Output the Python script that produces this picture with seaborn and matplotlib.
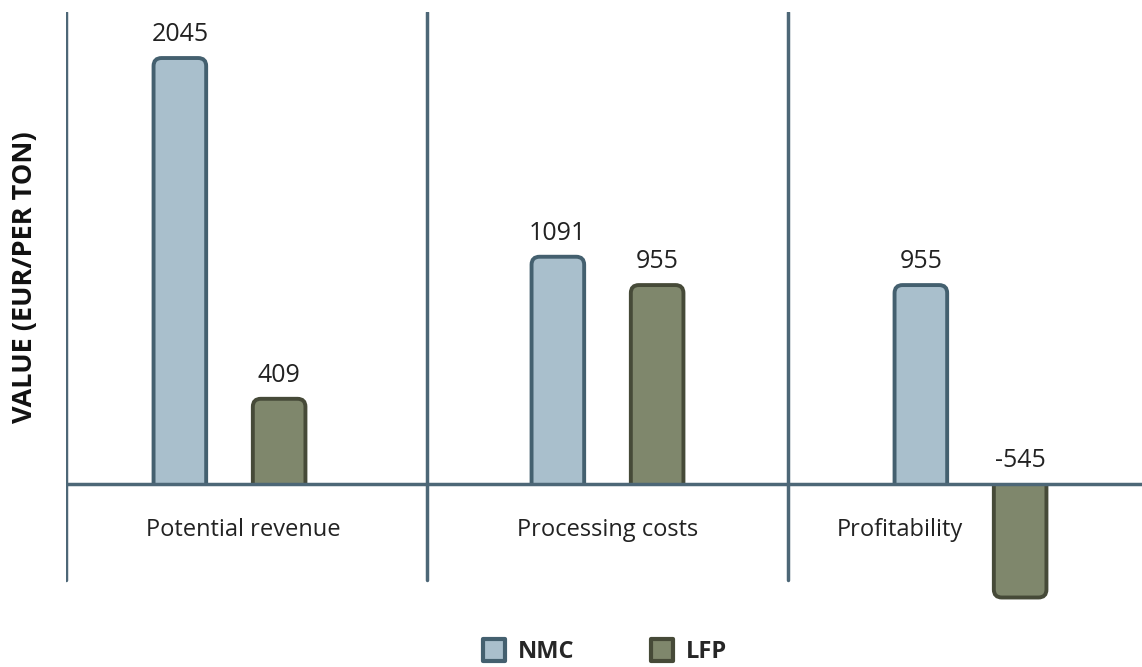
import matplotlib
matplotlib.use("Agg")
import matplotlib.pyplot as plt
import seaborn as sns
import pandas as pd
from matplotlib.patches import FancyBboxPatch, Rectangle
from matplotlib.lines import Line2D
from matplotlib.markers import MarkerStyle

categories = ["Potential revenue", "Processing costs", "Profitability"]
series = ["NMC", "LFP"]
nmc_values = [2045, 1091, 955]
lfp_values = [409, 955, -545]
y_label = "VALUE (EUR/PER TON)"

fill_colors = {"NMC": "#A9BFCC", "LFP": "#7F876C"}
edge_colors = {"NMC": "#44606F", "LFP": "#464A38"}
axis_color = "#4D6777"
FONT = ["Open Sans", "DejaVu Sans"]

df = pd.DataFrame({
    "category": categories * 2,
    "series": ["NMC"] * 3 + ["LFP"] * 3,
    "value": nmc_values + lfp_values,
})

sns.set_style("white")
plt.rcParams["font.family"] = FONT

W, H = 1142, 667
fig = plt.figure(figsize=(W / 100, H / 100), dpi=100)
ax = fig.add_axes([66 / W, (H - 610) / H, 1083 / W, 598 / H])

sns.barplot(data=df, x="category", y="value", hue="series", order=categories,
            hue_order=series, palette=fill_colors, width=0.55, gap=0.47,
            legend=False, ax=ax, errorbar=None)

ax.set_xlim(-0.5, 2.5)
ax.set_ylim(-605, 2266)

px_per_x = 1083 / 3.0
px_per_y = 598 / (2266 + 605)
radius_px = 8
rx = radius_px / px_per_x
aspect = (1 / px_per_y) / (1 / px_per_x)
group_shift_px = [-17, 0, 2]

bars = list(ax.patches)
for i, bar in enumerate(bars):
    s = series[i // len(categories)]
    g = i % len(categories)
    x0, w, h = bar.get_x(), bar.get_width(), bar.get_height()
    x0 += group_shift_px[g] / px_per_x
    bar.set_visible(False)
    ext = radius_px * 2 / px_per_y
    if h >= 0:
        y0, hh = -ext, h + ext
        clip = Rectangle((x0 - 1, 0), w + 2, 1e5, transform=ax.transData)
    else:
        y0, hh = h, -h + ext
        clip = Rectangle((x0 - 1, -1e5), w + 2, 1e5, transform=ax.transData)
    p = FancyBboxPatch((x0, y0), w, hh,
                       boxstyle=f"round,pad=0,rounding_size={rx}",
                       mutation_aspect=aspect,
                       facecolor=fill_colors[s], edgecolor=edge_colors[s],
                       linewidth=2.8, zorder=3)
    ax.add_patch(p)
    p.set_clip_path(clip)
    ax.annotate(f"{h:.0f}", (x0 + w / 2, max(h, 0)), xytext=(0, 8),
                textcoords="offset points", ha="center", va="bottom",
                fontsize=18, color="#222222", zorder=5)

# separators and zero line
ax.axhline(0, color=axis_color, lw=2.5, zorder=4)
bot_frac = (610 - 580) / 598
for xs in [-0.5, 0.5, 1.5]:
    ax.axvline(xs, ymin=bot_frac, ymax=1.0, color=axis_color, lw=2.5,
               solid_capstyle="round", zorder=4)

for sp in ax.spines.values():
    sp.set_visible(False)
ax.set_xticks([])
ax.set_yticks([])
ax.set_xlabel("")
ax.set_ylabel("")

label_offsets = [-0.01, 0.0, -0.19]
label_y = -46 / px_per_y
for i, (c, off) in enumerate(zip(categories, label_offsets)):
    ax.text(i + off, label_y, c, ha="center", va="center", fontsize=17,
            color="#222222")

fig.text(25 / W, 1 - 277 / H, y_label, rotation=90, ha="center", va="center",
         fontsize=19.5, fontweight="bold", color="#111111")

handles = [Line2D([], [], linestyle="none",
                  marker=MarkerStyle("s", joinstyle="round"), markersize=16,
                  markerfacecolor=fill_colors[s], markeredgecolor=edge_colors[s],
                  markeredgewidth=3.0, label=s) for s in series]
leg = fig.legend(handles=handles, loc="center", bbox_to_anchor=(601 / W, 1 - 652 / H),
                 ncol=2, frameon=False, columnspacing=2.9, handletextpad=0.2,
                 handlelength=1.6, prop={"weight": "bold", "size": 17})

fig.savefig("out.png", dpi=100, facecolor="white")
